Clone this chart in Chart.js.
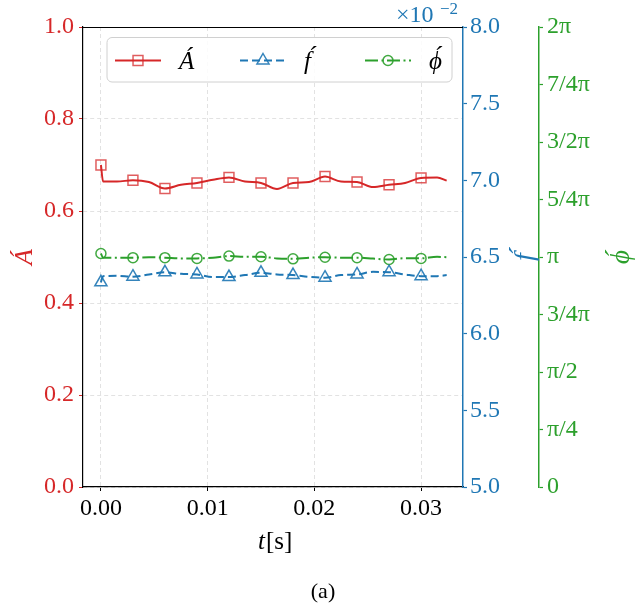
<!DOCTYPE html>
<html>
<head>
<meta charset="utf-8">
<script src="https://cdn.jsdelivr.net/npm/chart.js@4"></script>
<style>
  body { margin: 0; background: #fff; }
  canvas { display: block; }
</style>
</head>
<body>
<canvas id="chart" width="636" height="616"></canvas>
<script>
// time samples (s)
const times = [0, 0.0002, 0.0015, 0.003, 0.0045, 0.006, 0.0075, 0.009, 0.0105, 0.012, 0.0135, 0.015,
  0.0165, 0.018, 0.0195, 0.021, 0.0225, 0.024, 0.0255, 0.027, 0.0285, 0.030, 0.0315, 0.0324];
// amplitude A
const ampValues = [0.700, 0.664, 0.664, 0.667, 0.663, 0.649, 0.657, 0.661, 0.668, 0.673, 0.664, 0.661,
  0.648, 0.661, 0.663, 0.675, 0.664, 0.663, 0.652, 0.657, 0.661, 0.672, 0.673, 0.666];
// frequency f (x 10^-2)
const freqValues = [6.335, 6.375, 6.377, 6.372, 6.386, 6.400, 6.390, 6.386, 6.369, 6.369, 6.382, 6.397,
  6.386, 6.382, 6.371, 6.365, 6.382, 6.386, 6.403, 6.401, 6.386, 6.375, 6.375, 6.382];
// phase phi (in units of pi)
const phaseValues = [1.015, 0.997, 0.997, 0.997, 0.999, 0.997, 0.994, 0.994, 0.997, 1.004, 1.001, 1.001,
  0.994, 0.992, 0.997, 0.999, 0.997, 0.997, 0.993, 0.989, 0.995, 0.994, 1.001, 0.999];
// times where a marker is drawn
const markerTimes = [0, 0.003, 0.006, 0.009, 0.012, 0.015, 0.018, 0.021, 0.024, 0.027, 0.030];

const xTicks = [0, 0.01, 0.02, 0.03];
const ampTicks = [0, 0.2, 0.4, 0.6, 0.8, 1.0];
const freqTicks = [5.0, 5.5, 6.0, 6.5, 7.0, 7.5, 8.0];
const phaseTicks = [0, 0.25, 0.5, 0.75, 1, 1.25, 1.5, 1.75, 2];
const phaseTickLabels = ["0", "π/4", "π/2", "3/4π", "π", "5/4π", "3/2π", "7/4π", "2π"];

const RED = "#d62728", BLUE = "#1f77b4", GREEN = "#2ca02c";
const SERIF = "'Liberation Serif', 'DejaVu Serif', serif";

function pts(values) {
  return times.map((t, i) => ({ x: t, y: values[i] }));
}
function markerRadius(r) {
  return (ctx) => {
    const p = ctx.raw;
    if (!p) return 0;
    return markerTimes.some((m) => Math.abs(m - p.x) < 1e-7) ? r : 0;
  };
}

function tickScale(values, width) {
  return {
    afterBuildTicks: (s) => { s.ticks = values.map((v) => ({ value: v })); },
    afterFit: (s) => { s.width = width; },
  };
}

const labelsPlugin = {
  id: "labels",
  afterDraw(chart) {
    const ctx = chart.ctx;
    const a = chart.chartArea;
    ctx.save();
    // top frame
    ctx.strokeStyle = "#000";
    ctx.lineWidth = 1.2;
    ctx.beginPath();
    ctx.moveTo(a.left, a.top + 0.5);
    ctx.lineTo(a.right, a.top + 0.5);
    ctx.stroke();

    // legend
    const bx = 107, by = 37.5, bw = 345, bh = 44.5;
    ctx.fillStyle = "rgba(255,255,255,0.85)";
    ctx.strokeStyle = "#d0d0d0";
    ctx.lineWidth = 1;
    ctx.beginPath();
    ctx.roundRect(bx, by, bw, bh, 5);
    ctx.fill();
    ctx.stroke();
    const items = [
      { x0: 115, label: "A\u0301" },
      { x0: 240, label: "f\u0301" },
      { x0: 365, label: "\u03D5\u0301" },
    ];
    items.forEach((it, i) => {
      const ds = chart.data.datasets[i];
      const y = 60.5;
      ctx.strokeStyle = ds.borderColor;
      ctx.lineWidth = ds.borderWidth;
      ctx.setLineDash(ds.borderDash || []);
      ctx.beginPath();
      ctx.moveTo(it.x0, y);
      ctx.lineTo(it.x0 + 46, y);
      ctx.stroke();
      ctx.setLineDash([]);
      drawMarker(ctx, ds.pointStyle, it.x0 + 23, y, ds.legendRadius, ds.pointBorderColor);
      ctx.fillStyle = "#000";
      ctx.font = "italic 25px " + SERIF;
      ctx.textAlign = "left";
      ctx.textBaseline = "alphabetic";
      ctx.fillText(it.label, it.x0 + 64, 69);
    });

    // axis titles
    const mid = (a.top + a.bottom) / 2;
    const rot = (text, x, color, size) => {
      ctx.save();
      ctx.translate(x, mid);
      ctx.rotate(-Math.PI / 2);
      ctx.fillStyle = color;
      ctx.font = "italic " + size + "px " + SERIF;
      ctx.textAlign = "center";
      ctx.textBaseline = "alphabetic";
      ctx.fillText(text, 0, 0);
      ctx.restore();
    };
    rot("A\u0301", 32, RED, 26);
    rot("f\u0301", 533, BLUE, 28);
    rot("\u03D5\u0301", 629, GREEN, 27);

    // x10^-2 offset text
    ctx.fillStyle = BLUE;
    ctx.textAlign = "left";
    ctx.textBaseline = "alphabetic";
    ctx.font = "24px " + SERIF;
    ctx.fillText("×10", 396, 22);
    ctx.font = "17px " + SERIF;
    ctx.fillText("−2", 440, 14);

    // x title
    ctx.fillStyle = "#000";
    ctx.font = "italic 25px " + SERIF;
    ctx.fillText("t", 258, 549);
    ctx.font = "25px " + SERIF;
    ctx.fillText("[s]", 266, 549);

    // caption
    ctx.font = "22px " + SERIF;
    ctx.textAlign = "center";
    ctx.fillText("(a)", 323, 598);
    ctx.restore();
  },
};

function drawMarker(ctx, style, x, y, r, color) {
  ctx.save();
  ctx.strokeStyle = color;
  ctx.lineWidth = 1.5;
  ctx.beginPath();
  if (style === "rect") {
    const s = r * Math.SQRT1_2;
    ctx.rect(x - s, y - s, 2 * s, 2 * s);
  } else if (style === "triangle") {
    ctx.moveTo(x, y - r);
    ctx.lineTo(x + r * 0.866, y + r / 2);
    ctx.lineTo(x - r * 0.866, y + r / 2);
    ctx.closePath();
  } else {
    ctx.arc(x, y, r, 0, Math.PI * 2);
  }
  ctx.stroke();
  ctx.restore();
}

new Chart(document.getElementById("chart"), {
  type: "line",
  data: {
    datasets: [
      {
        label: "A",
        data: pts(ampValues),
        yAxisID: "yA",
        borderColor: RED,
        borderWidth: 2,
        pointStyle: "rect",
        pointRadius: markerRadius(7),
        legendRadius: 7,
        pointBorderColor: "rgba(214,39,40,0.75)",
        pointBackgroundColor: "rgba(0,0,0,0)",
        pointBorderWidth: 1.5,
        cubicInterpolationMode: "monotone",
      },
      {
        label: "f",
        data: pts(freqValues),
        yAxisID: "yF",
        borderColor: BLUE,
        borderWidth: 2,
        borderDash: [8, 4],
        pointStyle: "triangle",
        pointRadius: markerRadius(7),
        legendRadius: 7,
        pointBorderColor: "rgba(31,119,180,0.9)",
        pointBackgroundColor: "rgba(0,0,0,0)",
        pointBorderWidth: 1.5,
        cubicInterpolationMode: "monotone",
      },
      {
        label: "phi",
        data: pts(phaseValues),
        yAxisID: "yP",
        borderColor: GREEN,
        borderWidth: 2,
        borderDash: [13, 3.5, 2, 3.5],
        pointStyle: "circle",
        pointRadius: markerRadius(5),
        legendRadius: 5,
        pointBorderColor: "rgba(44,160,44,0.9)",
        pointBackgroundColor: "rgba(0,0,0,0)",
        pointBorderWidth: 1.5,
        cubicInterpolationMode: "monotone",
      },
    ],
  },
  options: {
    responsive: false,
    animation: false,
    devicePixelRatio: 1,
    layout: { padding: { top: 27, left: 0, right: 0, bottom: 0 } },
    plugins: { legend: { display: false }, tooltip: { enabled: false } },
    scales: {
      x: {
        type: "linear",
        min: -0.00168,
        max: 0.03393,
        afterBuildTicks: (s) => { s.ticks = xTicks.map((v) => ({ value: v })); },
        afterFit: (s) => { s.height = 129; },
        border: { color: "#000", width: 1.2, dash: [4, 3] },
        grid: { color: "#e2e2e2", tickColor: "#000", tickLength: 4, tickBorderDash: [] },
        ticks: {
          color: "#000",
          padding: 3,
          maxRotation: 0,
          font: { family: SERIF, size: 24 },
          callback: (v) => v.toFixed(2),
        },
      },
      yA: {
        position: "left",
        min: 0,
        max: 1,
        ...tickScale(ampTicks, 83),
        border: { color: "#000", width: 1.2, dash: [4, 3] },
        grid: { color: "#e2e2e2", tickColor: RED, tickLength: 4, tickBorderDash: [] },
        ticks: {
          color: RED,
          padding: 5,
          font: { family: SERIF, size: 24 },
          callback: (v) => v.toFixed(1),
        },
      },
      yF: {
        position: "right",
        weight: 0,
        min: 5,
        max: 8,
        ...tickScale(freqTicks, 76),
        border: { color: BLUE, width: 1.5 },
        grid: { drawOnChartArea: false, color: BLUE, tickLength: 4, tickWidth: 1.2 },
        ticks: {
          color: BLUE,
          padding: 3,
          font: { family: SERIF, size: 24 },
          callback: (v) => v.toFixed(1),
        },
      },
      yP: {
        position: "right",
        weight: 1,
        min: 0,
        max: 2,
        ...tickScale(phaseTicks, 97),
        border: { color: GREEN, width: 1.5 },
        grid: { drawOnChartArea: false, color: GREEN, tickLength: 4, tickWidth: 1.2 },
        ticks: {
          color: GREEN,
          padding: 4,
          font: { family: SERIF, size: 24 },
          callback: (v, i) => phaseTickLabels[i],
        },
      },
    },
  },
  plugins: [labelsPlugin],
});
</script>
</body>
</html>
